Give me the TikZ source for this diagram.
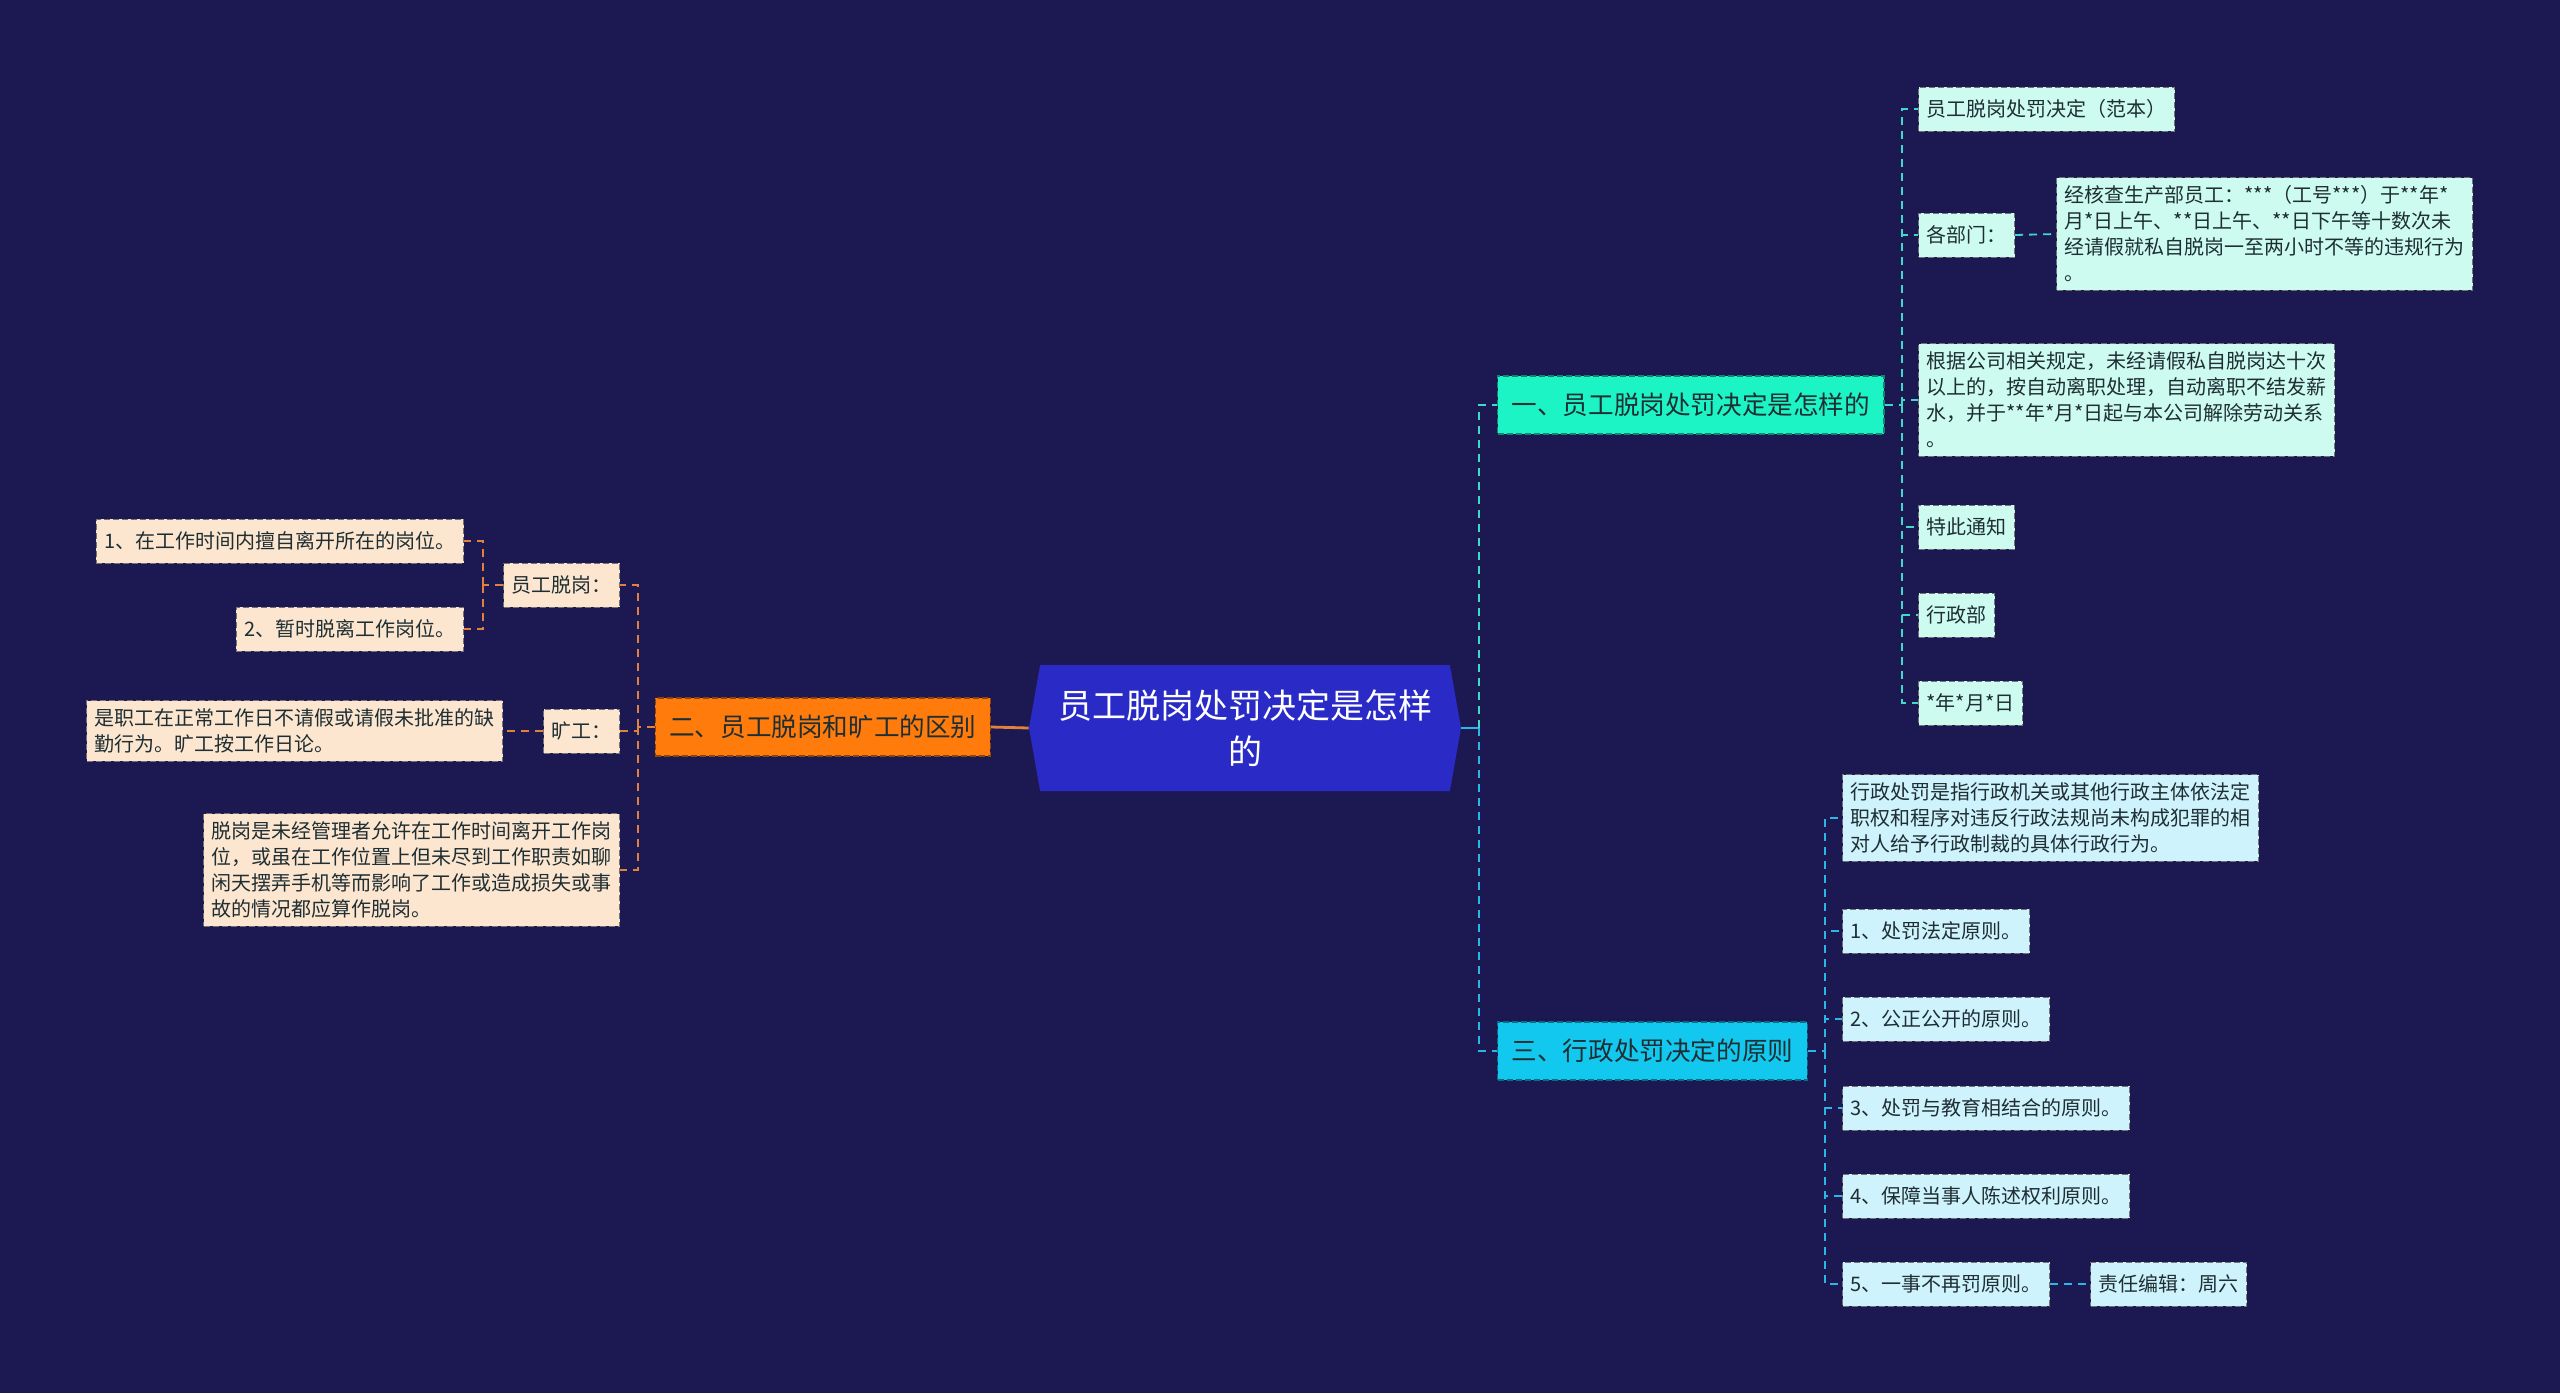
\documentclass[tikz,border=0pt]{standalone}
\usepackage{fontspec}
\setmainfont{Noto Sans CJK SC}
\usetikzlibrary{shapes.symbols}
\definecolor{bgnavy}{RGB}{27,24,82}
\definecolor{rootblue}{HTML}{2A2BC6}
\definecolor{mint}{HTML}{1DF4C6}
\definecolor{sky}{HTML}{12C8EE}
\definecolor{amber}{HTML}{FF7B0C}
\definecolor{mintleaf}{HTML}{CDFBF0}
\definecolor{skyleaf}{HTML}{CFF3FC}
\definecolor{amberleaf}{HTML}{FDE6CF}
\definecolor{ink}{HTML}{1E2E33}
\definecolor{mintline}{HTML}{3ED9CB}
\definecolor{skyline}{HTML}{2CB6E6}
\definecolor{amberline}{HTML}{E0813E}
\tikzset{
  root/.style={signal,signal to=west and east,signal pointer angle=160,fill=rootblue,
    text=white,font=\fontsize{17}{23}\selectfont,align=center,
    minimum width=216pt,minimum height=63pt,inner sep=2pt},
  branch/.style={draw=#1!55!black,dash pattern=on 3pt off 1.5pt,line width=0.6pt,fill=#1,
    text=ink,font=\fontsize{12.8}{15}\selectfont,inner xsep=7pt,minimum height=29pt},
  branch/.default=mint,
  leaf/.style={draw=black!55,dash pattern=on 3pt off 1.5pt,line width=0.5pt,fill=#1,
    text=ink,font=\fontsize{10}{13}\selectfont,align=left,inner xsep=4pt,inner ysep=4pt,
    minimum height=22pt},
  leaf/.default=mintleaf,
  link/.style={draw=#1,line width=0.9pt,dash pattern=on 4pt off 3pt},
  link/.default=mintline,
}

\begin{document}
\begin{tikzpicture}[x=0.5pt,y=-0.5pt]
    \fill[bgnavy] (0,0) rectangle (2560,1393);

    \node[root] (root) at (1245,728) {员工脱岗处罚决定是怎样\\的};

    \node[branch=mint,anchor=west] (br1) at (1497,405) {一、员工脱岗处罚决定是怎样的};
    \node[branch=amber,anchor=east] (br2) at (991,727) {二、员工脱岗和旷工的区别};
    \node[branch=sky,anchor=west] (br3) at (1497,1051) {三、行政处罚决定的原则};

    % branch one
    \node[leaf,anchor=west] (a1) at (1918,109) {员工脱岗处罚决定（范本）};
    \node[leaf,anchor=west] (a2) at (1918,235) {各部门：};
    \node[leaf,anchor=west] (a2x) at (2056,234)
      {经核查生产部员工：***（工号***）于**年*\\月*日上午、**日上午、**日下午等十数次未\\经请假就私自脱岗一至两小时不等的违规行为\\。};
    \node[leaf,anchor=west] (a3) at (1918,400)
      {根据公司相关规定，未经请假私自脱岗达十次\\以上的，按自动离职处理，自动离职不结发薪\\水，并于**年*月*日起与本公司解除劳动关系\\。};
    \node[leaf,anchor=west] (a4) at (1918,527) {特此通知};
    \node[leaf,anchor=west] (a5) at (1918,615) {行政部};
    \node[leaf,anchor=west] (a6) at (1918,703) {*年*月*日};

    % branch three
    \node[leaf=skyleaf,anchor=west] (c1) at (1842,818)
      {行政处罚是指行政机关或其他行政主体依法定\\职权和程序对违反行政法规尚未构成犯罪的相\\对人给予行政制裁的具体行政行为。};
    \node[leaf=skyleaf,anchor=west] (c2) at (1842,931) {1、处罚法定原则。};
    \node[leaf=skyleaf,anchor=west] (c3) at (1842,1019) {2、公正公开的原则。};
    \node[leaf=skyleaf,anchor=west] (c4) at (1842,1108) {3、处罚与教育相结合的原则。};
    \node[leaf=skyleaf,anchor=west] (c5) at (1842,1196) {4、保障当事人陈述权利原则。};
    \node[leaf=skyleaf,anchor=west] (c6) at (1842,1284) {5、一事不再罚原则。};
    \node[leaf=skyleaf,anchor=west] (c6x) at (2090,1284) {责任编辑：周六};

    % branch two
    \node[leaf=amberleaf,anchor=east] (b1) at (620,585) {员工脱岗：};
    \node[leaf=amberleaf,anchor=east] (b1a) at (464,541) {1、在工作时间内擅自离开所在的岗位。};
    \node[leaf=amberleaf,anchor=east] (b1b) at (464,629) {2、暂时脱离工作岗位。};
    \node[leaf=amberleaf,anchor=east] (b2) at (620,731) {旷工：};
    \node[leaf=amberleaf,anchor=east] (b2a) at (503,731)
      {是职工在正常工作日不请假或请假未批准的缺\\勤行为。旷工按工作日论。};
    \node[leaf=amberleaf,anchor=east] (b3) at (620,870)
      {脱岗是未经管理者允许在工作时间离开工作岗\\位，或虽在工作位置上但未尽到工作职责如聊\\闲天摆弄手机等而影响了工作或造成损失或事\\故的情况都应算作脱岗。};

    \coordinate (jr) at (1479,728);
    \coordinate (j1) at (1902,405);
    \coordinate (j2) at (638,727);
    \coordinate (j3) at (1825,1051);
    \coordinate (jb) at (483,585);

    % connectors
    \draw[skyline,line width=1.2pt] (root.east) -- (jr);
    \draw[link] (jr) |- (br1.west);
    \draw[link=skyline] (jr) |- (br3.west);
    \draw[amberline,line width=1.4pt] (root.west) -- (br2.east);

    \draw[link] (br1.east) -- (j1);
    \foreach \n in {a1,a2,a3,a4,a5,a6} \draw[link] (j1) |- (\n.west);
    \draw[link] (a2.east) -- (a2x.west);

    \draw[link=skyline] (br3.east) -- (j3);
    \foreach \n in {c1,c2,c3,c4,c5,c6} \draw[link=skyline] (j3) |- (\n.west);
    \draw[link=skyline] (c6.east) -- (c6x.west);

    \draw[link=amberline] (br2.west) -- (j2);
    \foreach \n in {b1,b2,b3} \draw[link=amberline] (j2) |- (\n.east);
    \draw[link=amberline] (b1.west) -- (jb);
    \foreach \n in {b1a,b1b} \draw[link=amberline] (jb) |- (\n.east);
    \draw[link=amberline] (b2.west) -- (b2a.east);
\end{tikzpicture}
\end{document}
